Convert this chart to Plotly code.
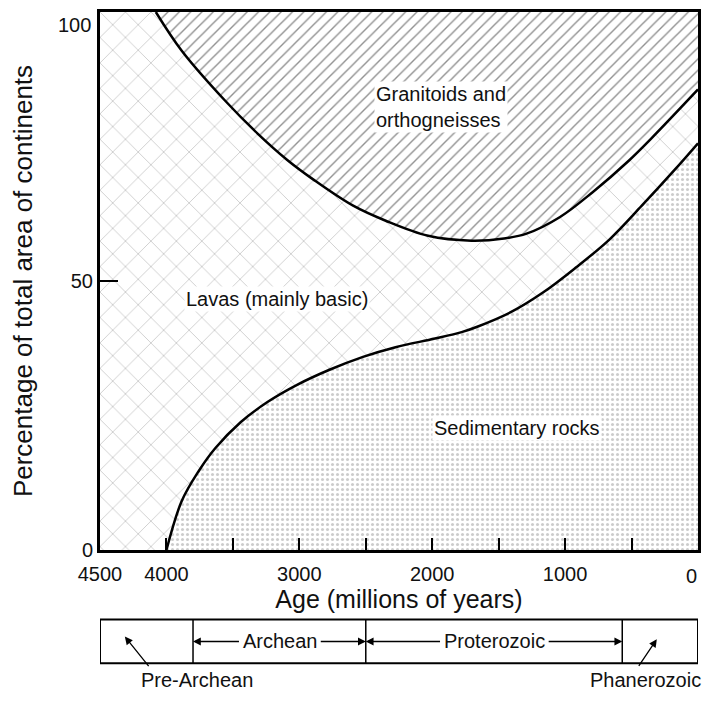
import plotly.graph_objects as go

# ---- data ----
AGE_RANGE = [4500, 0]
PCT_RANGE = [0, 100]

upper_age = [4080, 3885, 3558, 3314, 3091, 2891, 2595, 2350, 2031, 1705, 1460, 1290, 1038, 793, 519, 347, 0]
upper_pct = [100, 92.8, 83.5, 77.4, 72.5, 68.8, 64.0, 61.2, 58.4, 57.5, 57.9, 58.8, 61.9, 66.5, 72.4, 76.6, 85.6]

lower_age = [4000, 3885, 3759, 3633, 3440, 3240, 3017, 2773, 2521, 2276, 1979, 1779, 1661, 1409, 1164, 919, 667, 423, 178, 0]
lower_pct = [0, 9.1, 14.6, 18.9, 23.8, 27.5, 30.7, 33.5, 35.9, 37.7, 39.3, 40.5, 41.5, 44.2, 47.9, 52.5, 57.7, 64.0, 70.6, 75.6]

x_tickvals = [4500, 4000, 3500, 3000, 2500, 2000, 1500, 1000, 500, 0]
x_ticktext = ["4500", "4000", "", "3000", "", "2000", "", "1000", "", ""]   # "0" drawn at the edge below
y_tickvals = [0, 50, 100]
y_ticktext = ["0", "50", ""]          # "100" is drawn just under the frame (see below)

region_labels = ["Granitoids and<br>orthogneisses", "Lavas (mainly basic)", "Sedimentary rocks"]
region_age = [2439, 3870, 2002]       # left edge of each label
region_pct = [82.3, 46.6, 22.6]

# geological eras (Myr)
era_bounds = [4500, 3800, 2500, 570, 0]
era_names = ["Pre-Archean", "Archean", "Proterozoic", "Phanerozoic"]
era_label_age = [3773, 3140, 1530, 393]

FONT = "Liberation Sans, Arial, Helvetica, sans-serif"
TXT = "#111"

fig = go.Figure()

# lavas: whole frame as background pattern
fig.add_trace(go.Scatter(
    x=[AGE_RANGE[0], AGE_RANGE[1], AGE_RANGE[1], AGE_RANGE[0]],
    y=[PCT_RANGE[0], PCT_RANGE[0], PCT_RANGE[1], PCT_RANGE[1]],
    fill="toself", mode="lines", line=dict(width=0),
    fillcolor="white",
    fillpattern=dict(shape="x", size=18, solidity=0.05, fgcolor="#333", bgcolor="white"),
    hoverinfo="skip", showlegend=False))

# top edge for granitoid fill
fig.add_trace(go.Scatter(
    x=[upper_age[0], upper_age[-1]], y=[PCT_RANGE[1], PCT_RANGE[1]],
    mode="lines", line=dict(width=0), hoverinfo="skip", showlegend=False))

# granitoids boundary
fig.add_trace(go.Scatter(
    x=upper_age, y=upper_pct, mode="lines",
    line=dict(color="black", width=2.5, shape="spline", smoothing=1),
    fill="tonexty", fillcolor="white",
    fillpattern=dict(shape="/", size=8, solidity=0.17, fgcolor="#222", bgcolor="white"),
    showlegend=False, name="Granitoids and orthogneisses"))

# sediments boundary
fig.add_trace(go.Scatter(
    x=lower_age, y=lower_pct, mode="lines",
    line=dict(color="black", width=2.5, shape="spline", smoothing=1),
    fill="tozeroy", fillcolor="white",
    fillpattern=dict(shape=".", size=5, solidity=0.3, fgcolor="#999", bgcolor="white"),
    showlegend=False, name="Sedimentary rocks"))

annotations = []
for t, a, p in zip(region_labels, region_age, region_pct):
    annotations.append(dict(x=a, y=p, xref="x", yref="y", text=t, showarrow=False,
                            xanchor="left", yanchor="middle", align="left",
                            font=dict(family=FONT, size=20, color=TXT),
                            bgcolor="white", borderpad=1))

# "100" label sits just below the top frame line
annotations.append(dict(x=0, y=PCT_RANGE[1], xref="paper", yref="y", text="100",
                        showarrow=False, xanchor="right", yanchor="top",
                        xshift=-7, yshift=0, font=dict(family=FONT, size=20, color=TXT)))
# "0" age label at the right edge
annotations.append(dict(x=AGE_RANGE[1], y=0, xref="x", yref="paper", text="0",
                        showarrow=False, xanchor="right", yanchor="top",
                        xshift=1, yshift=-13, font=dict(family=FONT, size=20, color=TXT)))

# ---- era timeline below the axis (paper y) ----
BOX_TOP, BOX_BOT = -0.1294, -0.2107
BOX_MID = (BOX_TOP + BOX_BOT) / 2
LOW_LABEL_Y = -0.2421
shapes = [dict(type="rect", xref="x", yref="paper", x0=era_bounds[0], x1=era_bounds[-1],
               y0=BOX_BOT, y1=BOX_TOP, line=dict(color="black", width=2), layer="above")]
for b in era_bounds[1:-1]:
    shapes.append(dict(type="line", xref="x", yref="paper", x0=b, x1=b, y0=BOX_BOT, y1=BOX_TOP,
                       line=dict(color="black", width=1.5)))

for i in (1, 2):
    annotations.append(dict(x=era_label_age[i], y=BOX_MID, xref="x", yref="paper",
                            text=era_names[i], showarrow=False, xanchor="center", yanchor="middle",
                            font=dict(family=FONT, size=20, color=TXT)))
arrow_pairs = [(3443, era_bounds[1]), (2850, era_bounds[2]), (1930, era_bounds[2]), (1135, era_bounds[3])]
for tail, tip in arrow_pairs:
    annotations.append(dict(x=tip, y=BOX_MID, xref="x", yref="paper", ax=tail, ay=0,
                            axref="x", ayref="pixel", text="", showarrow=True,
                            arrowhead=2, arrowsize=1.2, arrowwidth=1.3, arrowcolor="black",
                            standoff=0, startstandoff=0))

for i in (0, 3):
    annotations.append(dict(x=era_label_age[i], y=LOW_LABEL_Y, xref="x", yref="paper",
                            text=era_names[i], showarrow=False, xanchor="center", yanchor="middle",
                            font=dict(family=FONT, size=20, color=TXT)))
annotations += [
    dict(x=4313, y=-0.161, xref="x", yref="paper", ax=25, ay=31, axref="pixel", ayref="pixel",
         text="", showarrow=True, arrowhead=2, arrowsize=1.2, arrowwidth=1.3, arrowcolor="black"),
    dict(x=310, y=-0.166, xref="x", yref="paper", ax=-19, ay=28, axref="pixel", ayref="pixel",
         text="", showarrow=True, arrowhead=2, arrowsize=1.2, arrowwidth=1.3, arrowcolor="black"),
]

# the page body has an 8px margin: keep the figure inside the window (no scrollbars)
fig.update_layout(
    width=694, height=685,
    margin=dict(l=92, r=1, t=1, b=143),
    paper_bgcolor="white", plot_bgcolor="white",
    font=dict(family=FONT, size=20, color="black"),
    showlegend=False,
    annotations=annotations, shapes=shapes,
    xaxis=dict(range=AGE_RANGE, tickvals=x_tickvals, ticktext=x_ticktext,
               ticks="inside", ticklen=12, tickwidth=1.5, tickcolor="black",
               showline=True, mirror=True, linewidth=3, linecolor="black",
               showgrid=False, zeroline=False, tickfont=dict(size=20, color=TXT),
               ticklabelstandoff=4,
               title=dict(text="Age (millions of years)", font=dict(size=25, color=TXT), standoff=4)),
    yaxis=dict(range=PCT_RANGE, tickvals=y_tickvals, ticktext=y_ticktext,
               ticks="inside", ticklen=18, tickwidth=1.5, tickcolor="black",
               showline=True, mirror=True, linewidth=3, linecolor="black",
               showgrid=False, zeroline=False, tickfont=dict(size=20, color=TXT),
               title=dict(text="Percentage of total area of continents", font=dict(size=26, color=TXT),
                          standoff=44)),
)

fig.write_html("out.html")
